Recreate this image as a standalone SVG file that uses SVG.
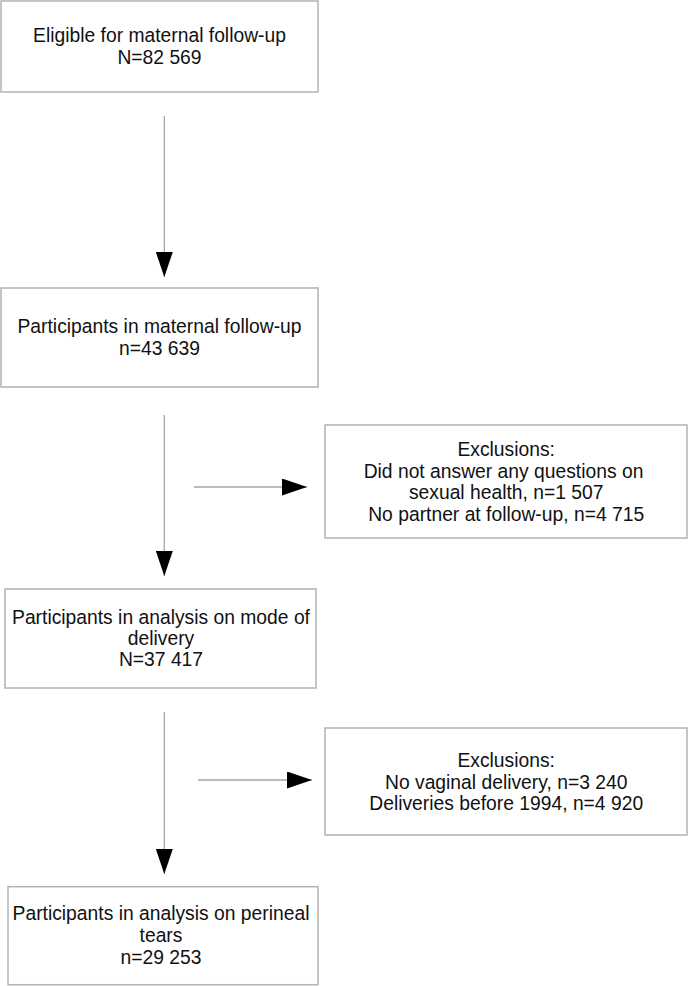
<svg xmlns="http://www.w3.org/2000/svg" width="688" height="986" viewBox="0 0 688 986">
<style>
.box{fill:#fff;stroke:#b3b3b3;stroke-width:1.5}
.t{font-family:"Liberation Sans",Arial,sans-serif;font-size:19.3px;fill:#111;text-anchor:middle}
.c{stroke:#a6a6a6;stroke-width:1.3;fill:none;marker-end:url(#ah)}
</style>
<defs>
<marker id="ah" markerUnits="userSpaceOnUse" markerWidth="25" markerHeight="17" refX="25" refY="8.5" orient="auto" viewBox="0 0 25 17">
<path d="M0,0 L25,8.5 L0,17 Z" fill="#000"/>
</marker>
</defs>
<rect width="688" height="986" fill="#fff"/>
<g id="connectors">
<line class="c" x1="164.3" y1="116" x2="164.3" y2="277"/>
<line class="c" x1="164.3" y1="415" x2="164.3" y2="576"/>
<line class="c" x1="164.3" y1="712" x2="164.3" y2="874"/>
<line class="c" x1="194" y1="487" x2="307" y2="487"/>
<line class="c" x1="198" y1="780" x2="312" y2="780"/>
</g>
<g id="eligible">
<rect class="box" x="1" y="1" width="317" height="91"/>
<text class="t" x="159.5" y="42">Eligible for maternal follow-up</text>
<text class="t" x="159.5" y="64">N=82 569</text>
</g>
<g id="participants">
<rect class="box" x="1" y="288" width="317" height="99"/>
<text class="t" x="159.5" y="333">Participants in maternal follow-up</text>
<text class="t" x="159.5" y="354.5">n=43 639</text>
</g>
<g id="exclusions1">
<rect class="box" x="325" y="425" width="362" height="113"/>
<text class="t" x="506.2" y="456">Exclusions:</text>
<text class="t" x="503.5" y="477.7">Did not answer any questions on</text>
<text class="t" x="506.2" y="499.4">sexual health, n=1 507</text>
<text class="t" x="506.2" y="521.1">No partner at follow-up, n=4 715</text>
</g>
<g id="mode">
<rect class="box" x="5" y="589" width="311" height="99"/>
<text class="t" x="161" y="624">Participants in analysis on mode of</text>
<text class="t" x="161" y="645">delivery</text>
<text class="t" x="161" y="666">N=37 417</text>
</g>
<g id="exclusions2">
<rect class="box" x="325" y="728" width="362" height="107"/>
<text class="t" x="506.2" y="767">Exclusions:</text>
<text class="t" x="506.2" y="788.5">No vaginal delivery, n=3 240</text>
<text class="t" x="506.2" y="810">Deliveries before 1994, n=4 920</text>
</g>
<g id="perineal">
<rect class="box" x="8" y="886.7" width="310" height="98"/>
<text class="t" x="161" y="920">Participants in analysis on perineal</text>
<text class="t" x="161" y="942">tears</text>
<text class="t" x="161" y="964">n=29 253</text>
</g>
</svg>
